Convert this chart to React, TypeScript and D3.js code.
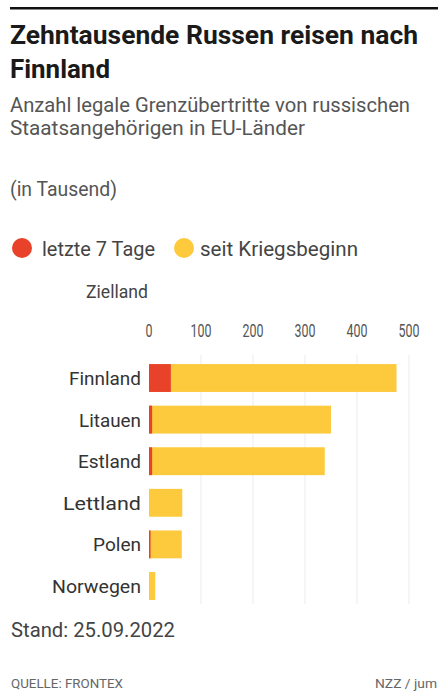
import React from "react";
import * as d3 from "d3";

const countries = ["Finnland", "Litauen", "Estland", "Lettland", "Polen", "Norwegen"];
const last7Days = [42, 6, 6, 0, 3, 0];
const sinceWarStart = [476, 350, 338, 64, 63, 12];
const xTicks = [0, 100, 200, 300, 400, 500];

const countryLabelWidths: Record<string, number> = {
  Finnland: 72, Litauen: 62, Estland: 63, Lettland: 78, Polen: 48, Norwegen: 89,
};

const W = 438;
const H = 691;
const FONT = "Roboto, 'Noto Sans', sans-serif";
const RED = "#e8432a";
const YELLOW = "#fcca3c";

type TProps = {
  x: number; y: number; size: number; w?: number; fill?: string; weight?: number;
  anchor?: "start" | "middle" | "end"; children: React.ReactNode;
};
function T({ x, y, size, w, fill = "#444", weight = 400, anchor = "start", children }: TProps) {
  return (
    <text x={x} y={y} fontSize={size} fill={fill} fontWeight={weight} textAnchor={anchor}
      textLength={w} lengthAdjust={w ? "spacingAndGlyphs" : undefined}>
      {children}
    </text>
  );
}

export default function App() {
  const x = d3.scaleLinear().domain([0, 500]).range([149, 409]);
  const y = d3.scaleBand().domain(countries).range([357, 607]).paddingInner(0.33).paddingOuter(0.17);

  return (
    <div style={{ position: "absolute", left: 0, top: 0 }}>
      <svg width={W} height={H} style={{ display: "block", background: "#fff" }} fontFamily={FONT}>
        <rect x={10} y={7} width={W - 10} height={2.5} fill="#111" />
        <T x={10} y={44} size={26} weight={700} fill="#1a1a1a" w={408}>Zehntausende Russen reisen nach</T>
        <T x={10} y={78} size={26} weight={700} fill="#1a1a1a" w={100}>Finnland</T>
        <T x={10} y={112} size={20} fill="#555" w={400}>Anzahl legale Grenzübertritte von russischen</T>
        <T x={10} y={135} size={20} fill="#555" w={295}>Staatsangehörigen in EU-Länder</T>
        <T x={10} y={196} size={20} fill="#555" w={107}>(in Tausend)</T>

        <circle cx={22} cy={248} r={10} fill={RED} />
        <T x={42} y={256} size={20} fill="#444" w={113}>letzte 7 Tage</T>
        <circle cx={184} cy={248} r={10} fill={YELLOW} />
        <T x={200} y={256} size={20} fill="#444" w={158}>seit Kriegsbeginn</T>

        <T x={148} y={298} size={18} fill="#444" anchor="end" w={62}>Zielland</T>
        {xTicks.map((t) => (
          <g key={t}>
            <T x={x(t)} y={337} size={19} fill="#555" anchor="middle" w={String(t).length * 7}>{t}</T>
            {t > 0 && <line x1={x(t)} x2={x(t)} y1={355} y2={604} stroke="#ececec" strokeWidth={1} />}
          </g>
        ))}

        {countries.map((c, i) => (
          <g key={c}>
            <T x={141} y={(y(c) as number) + y.bandwidth() / 2 + 7} size={18} fill="#333" anchor="end" w={countryLabelWidths[c]}>{c}</T>
            <rect x={x(0)} y={y(c)} width={x(sinceWarStart[i]) - x(0)} height={y.bandwidth()} fill={YELLOW} />
            <rect x={x(0)} y={y(c)} width={x(last7Days[i]) - x(0)} height={y.bandwidth()} fill={RED} />
          </g>
        ))}

        <T x={11} y={637} size={20} fill="#444" w={164}>Stand: 25.09.2022</T>
        <T x={11} y={688} size={12} fill="#666" w={112}>QUELLE: FRONTEX</T>
        <T x={437} y={688} size={12} fill="#666" anchor="end" w={62}>NZZ / jum</T>
      </svg>
    </div>
  );
}
